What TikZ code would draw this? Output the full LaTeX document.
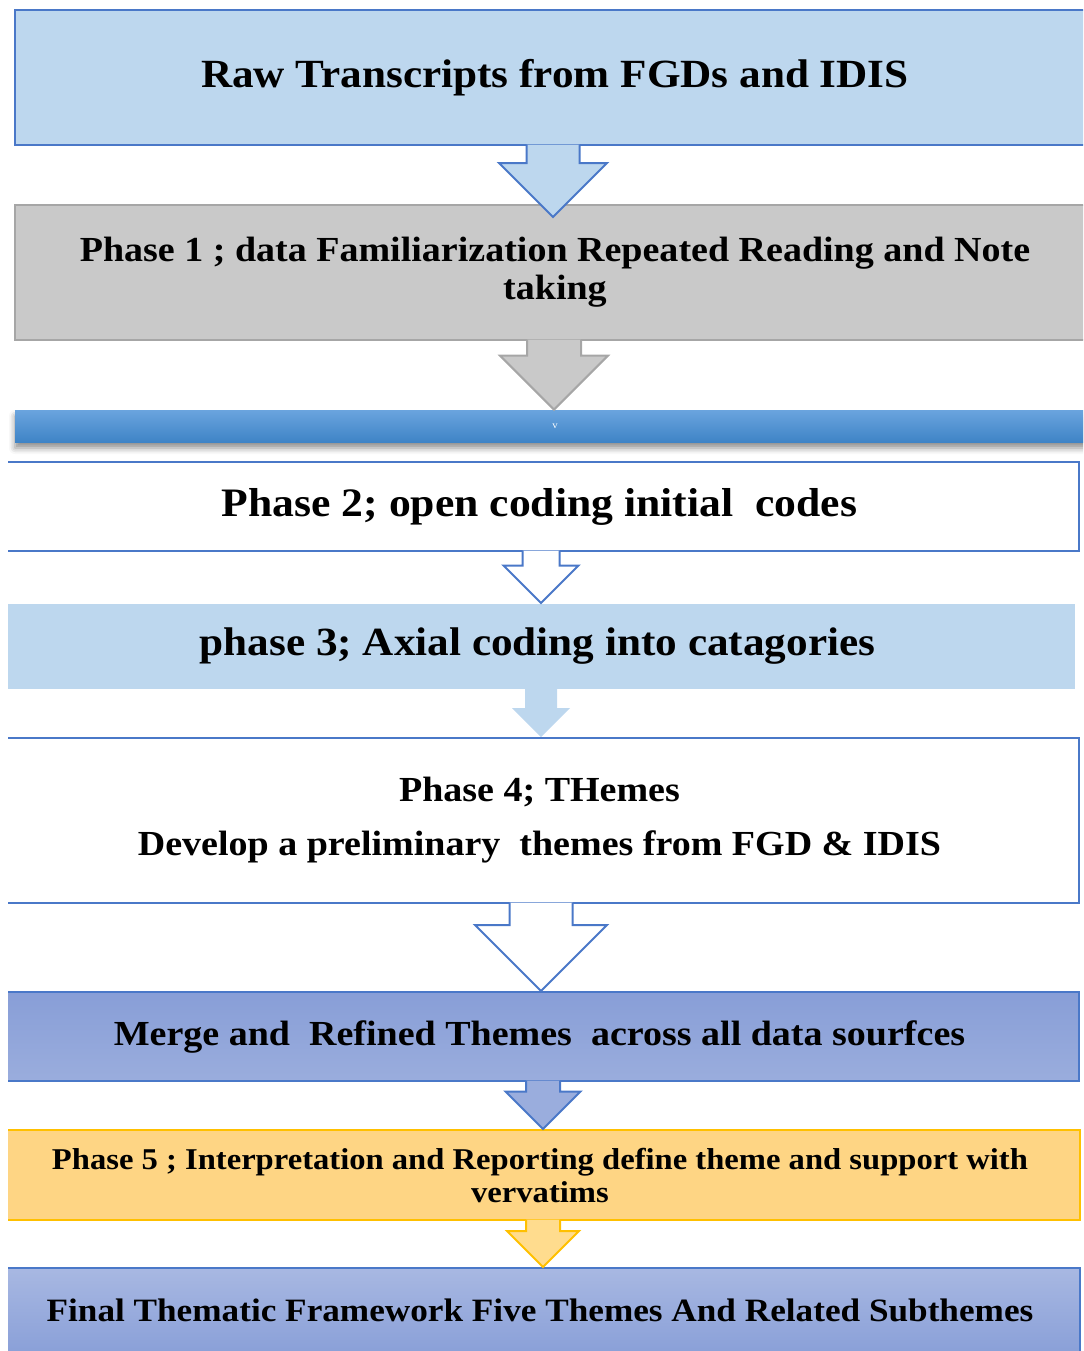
\documentclass[tikz,border=0pt]{standalone}
\usepackage{fontspec}
\setmainfont[FakeStretch=1.08]{Liberation Serif}
\usetikzlibrary{calc,shadows.blur}
\newlength{\unitpx}
\setlength{\unitpx}{0.5pt}
\definecolor{skyfill}{HTML}{BDD7EE}
\definecolor{edgeblue}{HTML}{4A78C8}
\definecolor{greyfill}{HTML}{C9C9C9}
\definecolor{greyedge}{HTML}{A6A6A6}
\definecolor{barlight}{HTML}{6AA4DE}
\definecolor{bardark}{HTML}{3F84C6}
\definecolor{mergetop}{HTML}{889ED7}
\definecolor{mergebot}{HTML}{9AADDD}
\definecolor{goldfill}{HTML}{FED584}
\definecolor{goldedge}{HTML}{FFC000}
\definecolor{arrowgoldfill}{HTML}{FFDC8E}
\definecolor{finaltop}{HTML}{A8B8E2}
\definecolor{finalbot}{HTML}{8AA0D8}
% block arrow: style, from, to, x centre, shaft half width, head half width
\newcommand{\blockarrow}[6]{%
  \coordinate (ax) at (#4,0);
  \coordinate (atop) at ($(ax |- #2)+(0,-1.5)$);
  \coordinate (atip) at (ax |- #3);
  \path[#1,draw=none] ($(atop)+(-#5,0)$) -- ($(atip)+(-#5,-#6)$) -- ($(atip)+(-#6,-#6)$) -- (atip)
    -- ($(atip)+(#6,-#6)$) -- ($(atip)+(#5,-#6)$) -- ($(atop)+(#5,0)$) -- cycle;
  \path[#1,fill=none] ($(atop)+(-#5,0)$) -- ($(atip)+(-#5,-#6)$) -- ($(atip)+(-#6,-#6)$) -- (atip)
    -- ($(atip)+(#6,-#6)$) -- ($(atip)+(#5,-#6)$) -- ($(atop)+(#5,0)$);
}

\begin{document}
\begin{tikzpicture}[x=0.5pt,y=-0.5pt,line join=miter,
  stage/.style={draw=edgeblue,line width=1pt,align=center,inner sep=0pt},
  arrowsky/.style={fill=skyfill,draw=edgeblue,line width=1pt},
  arrowgrey/.style={fill=greyfill,draw=greyedge,line width=1pt},
  arrowhollow/.style={fill=white,draw=edgeblue,line width=1pt},
  arrowplain/.style={fill=skyfill,draw=none},
  arrowmerge/.style={fill=mergebot,draw=edgeblue,line width=1pt},
  arrowgold/.style={fill=arrowgoldfill,draw=goldedge,line width=1pt}]
\useasboundingbox (0,0) rectangle (1083,1351);
\begin{scope}
\clip (8,0) rectangle (1083,1351);
% stages
\node[stage,fill=skyfill,minimum width=1080\unitpx,minimum height=135\unitpx,
  font=\bfseries\fontsize{20}{24}\selectfont] (raw) at (555,77.5) {Raw Transcripts from FGDs and IDIS};
\node[stage,fill=greyfill,draw=greyedge,minimum width=1080\unitpx,minimum height=135\unitpx,
  font=\bfseries\fontsize{17.6}{19}\selectfont] (ph1) at (555,272.5) {Phase 1 ; data Familiarization Repeated Reading and Note\\taking};
\node[top color=barlight,bottom color=bardark,inner sep=0pt,minimum width=1080\unitpx,minimum height=32\unitpx,
  blur shadow={shadow xshift=0pt,shadow yshift=-3pt,shadow blur radius=3pt,shadow opacity=45},
  text=white,font=\fontsize{5}{6}\selectfont] (bar) at (555,426) {v};
\node[stage,fill=white,minimum width=1079\unitpx,minimum height=89\unitpx,
  font=\bfseries\fontsize{20.2}{23}\selectfont] (ph2) at (539.5,506.5) {Phase 2; open coding initial\ \ codes};
\node[stage,draw=none,fill=skyfill,minimum width=1075\unitpx,minimum height=85\unitpx,
  font=\bfseries\fontsize{20}{23}\selectfont] (ph3) at (537.5,646.5) {phase 3; Axial coding into catagories};
\node[stage,fill=white,minimum width=1079\unitpx,minimum height=165\unitpx,
  font=\bfseries\fontsize{17.6}{27}\selectfont] (ph4) at (539.5,820.5) {Phase 4; THemes\\Develop a preliminary\ \ themes from FGD \& IDIS};
\node[stage,top color=mergetop,bottom color=mergebot,minimum width=1079\unitpx,minimum height=89\unitpx,
  font=\bfseries\fontsize{17.6}{20}\selectfont] (merge) at (539.5,1036.5) {Merge and\ \ Refined Themes\ \ across all data sourfces};
\node[stage,fill=goldfill,draw=goldedge,minimum width=1080\unitpx,minimum height=90\unitpx,
  font=\bfseries\fontsize{15.1}{16.5}\selectfont] (ph5) at (540,1175) {Phase 5 ; Interpretation and Reporting define theme and support with\\vervatims};
\node[stage,top color=finaltop,bottom color=finalbot,minimum width=1080\unitpx,minimum height=84\unitpx,
  font=\bfseries\fontsize{16.3}{20}\selectfont] (final) at (540,1310) {Final Thematic Framework Five Themes And Related Subthemes};
% arrows
\coordinate (tipone) at ($(ph1.north)+(0,13)$);
\blockarrow{arrowsky}{raw.south}{tipone}{553}{26.5}{54}
\blockarrow{arrowgrey}{ph1.south}{bar.north}{554}{27}{54}
\blockarrow{arrowhollow}{ph2.south}{ph3.north}{541}{18.5}{37.5}
\blockarrow{arrowplain}{ph3.south}{ph4.north}{541}{16}{29}
\blockarrow{arrowhollow}{ph4.south}{merge.north}{541}{31.5}{66}
\blockarrow{arrowmerge}{merge.south}{ph5.north}{543}{17}{37.5}
\blockarrow{arrowgold}{ph5.south}{final.north}{543}{17}{36}
\end{scope}
\end{tikzpicture}
\end{document}
